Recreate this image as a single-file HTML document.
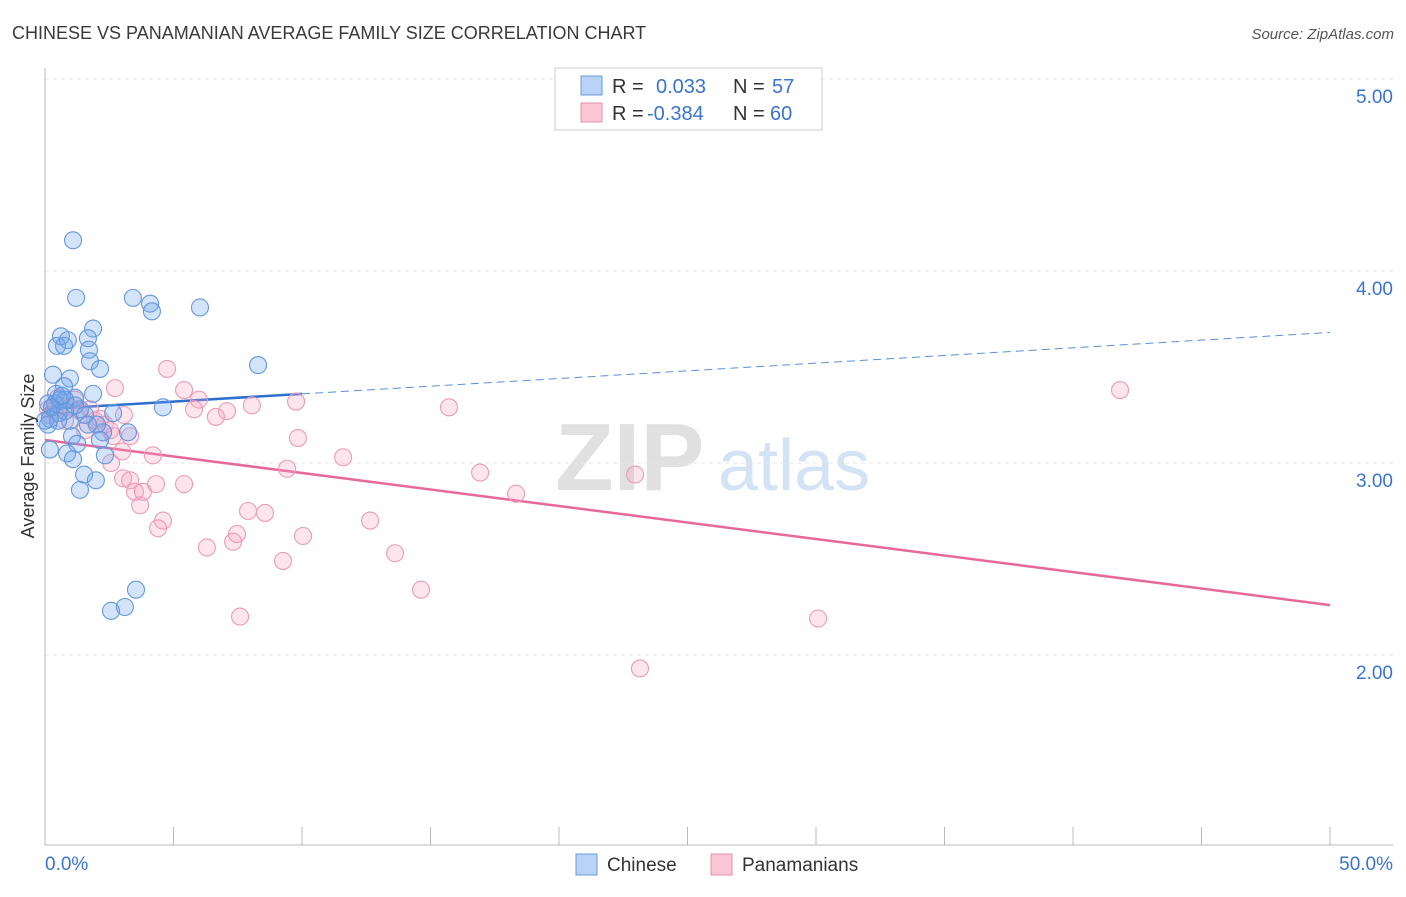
<!DOCTYPE html>
<html><head><meta charset="utf-8"><style>
body{margin:0;background:#fff;font-family:"Liberation Sans",sans-serif;}
svg text{font-family:"Liberation Sans",sans-serif;}
</style></head><body>
<svg width="1406" height="892" xmlns="http://www.w3.org/2000/svg">
<text x="12" y="39" font-size="18" fill="#3a3a3a">CHINESE VS PANAMANIAN AVERAGE FAMILY SIZE CORRELATION CHART</text>
<text x="1394" y="39" font-size="15" fill="#555" font-style="italic" text-anchor="end">Source: ZipAtlas.com</text>
<g>
<text x="555" y="490" font-size="96" fill="#e0e0e0" font-family="Liberation Serif" font-weight="bold">ZIP</text>
<text x="718" y="490" font-size="72" fill="#d3e3f5">atlas</text>
</g>
<g id="grid"></g>
<g id="axes"></g>
<g id="lines"></g>
<g id="pts"></g>
<text transform="translate(34,456) rotate(-90)" font-size="18" fill="#333" text-anchor="middle">Average Family Size</text>
<g>
<rect x="555" y="68" width="267" height="62" fill="#fff" stroke="#ccc"/>
<rect x="581" y="76" width="21" height="19" fill="#b8d3f5" stroke="#6b9bd8"/>
<text x="612" y="93" font-size="20" fill="#333">R =</text><text x="656" y="93" font-size="20" fill="#3a74cc">0.033</text>
<text x="733" y="93" font-size="20" fill="#333">N =</text><text x="772" y="93" font-size="20" fill="#3a74cc">57</text>
<rect x="581" y="103" width="21" height="19" fill="#f9c6d6" stroke="#e690b0"/>
<text x="612" y="120" font-size="20" fill="#333">R =</text><text x="647" y="120" font-size="20" fill="#3a74cc">-0.384</text>
<text x="733" y="120" font-size="20" fill="#333">N =</text><text x="770" y="120" font-size="20" fill="#3a74cc">60</text>
</g>
<g>
<rect x="576" y="854" width="21" height="21" fill="#b8d3f5" stroke="#6b9bd8"/>
<text x="607" y="871" font-size="19" fill="#333">Chinese</text>
<rect x="711" y="854" width="21" height="21" fill="#f9c6d6" stroke="#e690b0"/>
<text x="742" y="871" font-size="19" fill="#333">Panamanians</text>
</g>
</svg>
<script>
const blueX=[1.09,1.21,3.42,4.09,4.16,6.03,1.87,0.62,0.89,0.47,0.74,1.67,1.71,1.75,2.14,8.29,0.31,0.97,0.74,1.87,0.43,1.17,0.78,0.12,0.39,4.59,2.65,1.36,0.97,0.54,0.19,1.05,1.25,2.26,3.23,2.02,2.14,2.33,0.19,0.86,1.09,1.52,1.36,1.98,3.54,2.57,3.11,0.0,0.12,0.58,1.56,0.27,0.78,0.51,1.17,0.66,1.67];
const blueY=[4.16,3.86,3.86,3.83,3.79,3.81,3.70,3.66,3.64,3.61,3.61,3.65,3.59,3.53,3.49,3.51,3.46,3.44,3.40,3.36,3.36,3.34,3.33,3.31,3.31,3.29,3.26,3.28,3.22,3.26,3.23,3.14,3.10,3.16,3.16,3.20,3.12,3.04,3.07,3.05,3.02,2.94,2.86,2.91,2.34,2.23,2.25,3.22,3.20,3.33,3.25,3.29,3.27,3.22,3.30,3.35,3.20];
const pinkX=[4.75,2.72,5.41,5.99,5.80,7.08,6.65,8.05,9.77,15.72,41.83,3.07,3.31,9.84,2.65,2.14,3.00,4.20,11.60,2.57,9.42,16.93,22.96,3.04,3.31,3.50,3.81,4.32,5.41,18.33,3.70,7.90,8.56,12.65,4.59,4.40,7.47,7.32,10.04,6.30,13.62,9.26,14.63,7.59,30.08,23.15,0.39,0.58,0.97,1.36,1.75,0.19,0.78,1.56,1.95,1.17,2.33,0.51,2.53,0.12];
const pinkY=[3.49,3.39,3.38,3.33,3.28,3.27,3.24,3.30,3.32,3.29,3.38,3.25,3.14,3.13,3.14,3.23,3.06,3.04,3.03,3.00,2.97,2.95,2.94,2.92,2.91,2.85,2.85,2.89,2.89,2.84,2.78,2.75,2.74,2.70,2.70,2.66,2.63,2.59,2.62,2.56,2.53,2.49,2.34,2.20,2.19,1.93,3.28,3.30,3.29,3.27,3.28,3.25,3.22,3.17,3.22,3.33,3.20,3.34,3.17,3.28];
const blueTrend=[3.28,3.68];   // y at x=0% and x=50%
const pinkTrend=[3.12,2.26];
const blueSolidEnd=10;         // % where solid part ends
const yTicks=[2,3,4,5];
const yTickLabels=["2.00","3.00","4.00","5.00"];
const xTicks=[0,5,10,15,20,25,30,35,40,45,50];
const xLabels=["0.0%","50.0%"];

const NS="http://www.w3.org/2000/svg";
const X0=45,X1=1330,YB=655,YT=79;
const sx=v=>X0+(v/50)*(X1-X0);
const sy=v=>YB-(v-2)/3*(YB-YT);
function mk(tag,attrs,parent){const e=document.createElementNS(NS,tag);for(const k in attrs)e.setAttribute(k,attrs[k]);document.getElementById(parent).appendChild(e);return e;}

yTicks.forEach((t,i)=>{
  const g=mk('line',{x1:X0,x2:1393,y1:sy(t),y2:sy(t),stroke:'#e6e6e6','stroke-dasharray':'4,4'},'grid');
  
  
  const l=mk('text',{x:1393,y:sy(t)+24,'font-size':19,fill:'#3a74cc','text-anchor':'end'},'grid');
  l.textContent=yTickLabels[i];
  
  
});
const ya=mk('line',{x1:X0,x2:X0,y1:68,y2:845,stroke:'#bbb'},'axes');


const xa=mk('line',{x1:X0,x2:1393,y1:845,y2:845,stroke:'#bbb'},'axes');


xTicks.forEach(t=>{
  const tk=mk('line',{x1:sx(t),x2:sx(t),y1:827,y2:845,stroke:'#bbb'},'axes');
  
  
});
const xl0=mk('text',{x:45,y:870,'font-size':19,fill:'#3a74cc'},'axes');xl0.textContent=xLabels[0];


const xl1=mk('text',{x:1393,y:870,'font-size':19,fill:'#3a74cc','text-anchor':'end'},'axes');xl1.textContent=xLabels[1];



function drawPts(xs,ys,fill,stroke,name){
  xs.forEach((x,i)=>{
    const c=mk('circle',{cx:sx(x),cy:sy(ys[i]),r:8.5,fill:fill,stroke:stroke,'stroke-width':1.1},'pts');
    
    
  });
}
drawPts(pinkX,pinkY,'rgba(244,160,190,0.28)','#eb9bb8','panamanian-point');
drawPts(blueX,blueY,'rgba(110,165,235,0.3)','#6597dc','chinese-point');

const bm=blueTrend[0]+(blueTrend[1]-blueTrend[0])*blueSolidEnd/50;
const bs=mk('line',{x1:sx(0),y1:sy(blueTrend[0]),x2:sx(blueSolidEnd),y2:sy(bm),stroke:'#2f6fd0','stroke-width':2.5},'lines');


const bd=mk('line',{x1:sx(blueSolidEnd),y1:sy(bm),x2:sx(50),y2:sy(blueTrend[1]),stroke:'#5a8fd8','stroke-width':1,'stroke-dasharray':'8,5'},'lines');


const pl=mk('line',{x1:sx(0),y1:sy(pinkTrend[0]),x2:sx(50),y2:sy(pinkTrend[1]),stroke:'#e8689a','stroke-width':2.5},'lines');


</script>
</body></html>
